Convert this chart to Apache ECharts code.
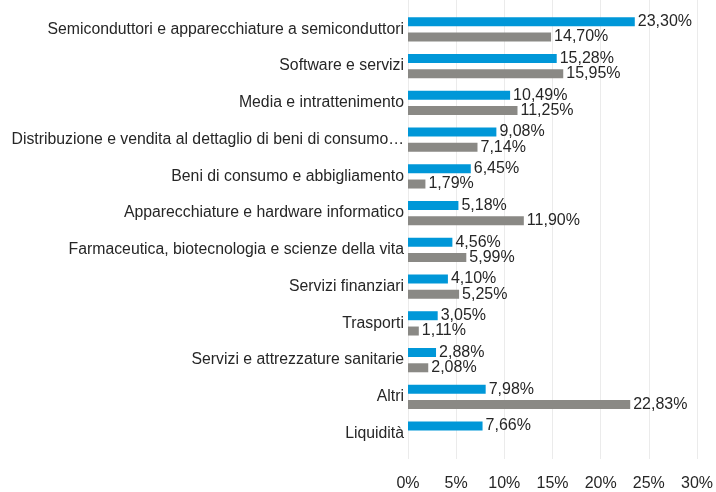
<!DOCTYPE html>
<html>
<head>
<meta charset="utf-8">
<script src="https://cdn.jsdelivr.net/npm/echarts@6/dist/echarts.min.js"></script>
<style>
  html, body { margin: 0; padding: 0; background: #fff; }
  #chart { width: 716px; height: 492px; }
</style>
</head>
<body>
<div id="chart"></div>
<script>
// categorie (dall'alto in basso)
var categories = [
    'Semiconduttori e apparecchiature a semiconduttori',
    'Software e servizi',
    'Media e intrattenimento',
    'Distribuzione e vendita al dettaglio di beni di consumo…',
    'Beni di consumo e abbigliamento',
    'Apparecchiature e hardware informatico',
    'Farmaceutica, biotecnologia e scienze della vita',
    'Servizi finanziari',
    'Trasporti',
    'Servizi e attrezzature sanitarie',
    'Altri',
    'Liquidità'
];
// serie blu
var blueValues = [23.30, 15.28, 10.49, 9.08, 6.45, 5.18, 4.56, 4.10, 3.05, 2.88, 7.98, 7.66];
// serie grigia
var greyValues = [14.70, 15.95, 11.25, 7.14, 1.79, 11.90, 5.99, 5.25, 1.11, 2.08, 22.83, null];
// asse x
var xTicks = [0, 5, 10, 15, 20, 25, 30];

var FONT = '"Liberation Sans", Arial, sans-serif';

function fmt(v) {
    return v.toFixed(2).replace('.', ',') + '%';
}

var chart = echarts.init(document.getElementById('chart'), null, { renderer: 'canvas' });

var option = {
    animation: false,
    textStyle: { fontFamily: FONT },
    grid: [
        // barre
        { left: 408, right: 16, top: 11, bottom: 40 },
        // griglia e etichette asse x
        { left: 408, right: 16, top: 0, bottom: 25 }
    ],
    xAxis: [
        {
            gridIndex: 0,
            type: 'value',
            min: xTicks[0],
            max: xTicks[xTicks.length - 1],
            interval: 5,
            show: false
        },
        {
            gridIndex: 1,
            type: 'value',
            min: xTicks[0],
            max: xTicks[xTicks.length - 1],
            interval: 5,
            axisLine: { show: false },
            axisTick: { show: false },
            splitLine: { show: true, lineStyle: { color: '#ebebeb', width: 1 } },
            axisLabel: {
                margin: 17,
                fontSize: 16,
                color: '#262626',
                fontFamily: FONT,
                formatter: function (v) { return v + '%'; }
            }
        }
    ],
    yAxis: [
        {
            gridIndex: 0,
            type: 'category',
            inverse: true,
            data: categories,
            axisLine: { show: false },
            axisTick: { show: false },
            splitLine: { show: false },
            axisLabel: {
                margin: 4,
                fontSize: 15.8,
                color: '#262626',
                fontFamily: FONT
            }
        },
        {
            gridIndex: 1,
            type: 'value',
            show: false
        }
    ],
    series: [
        {
            name: 'blu',
            type: 'bar',
            xAxisIndex: 0,
            yAxisIndex: 0,
            barWidth: 9,
            barGap: '70%',
            itemStyle: { color: '#0097d8' },
            label: {
                show: true,
                position: 'right',
                distance: 3,
                fontSize: 16,
                color: '#262626',
                fontFamily: FONT,
                formatter: function (p) { return fmt(p.value); }
            },
            data: blueValues
        },
        {
            name: 'grigio',
            type: 'bar',
            xAxisIndex: 0,
            yAxisIndex: 0,
            barWidth: 9,
            itemStyle: { color: '#8a8985' },
            label: {
                show: true,
                position: 'right',
                distance: 3,
                fontSize: 16,
                color: '#262626',
                fontFamily: FONT,
                formatter: function (p) { return p.value == null ? '' : fmt(p.value); }
            },
            data: greyValues
        }
    ]
};

chart.setOption(option);
</script>
</body>
</html>
